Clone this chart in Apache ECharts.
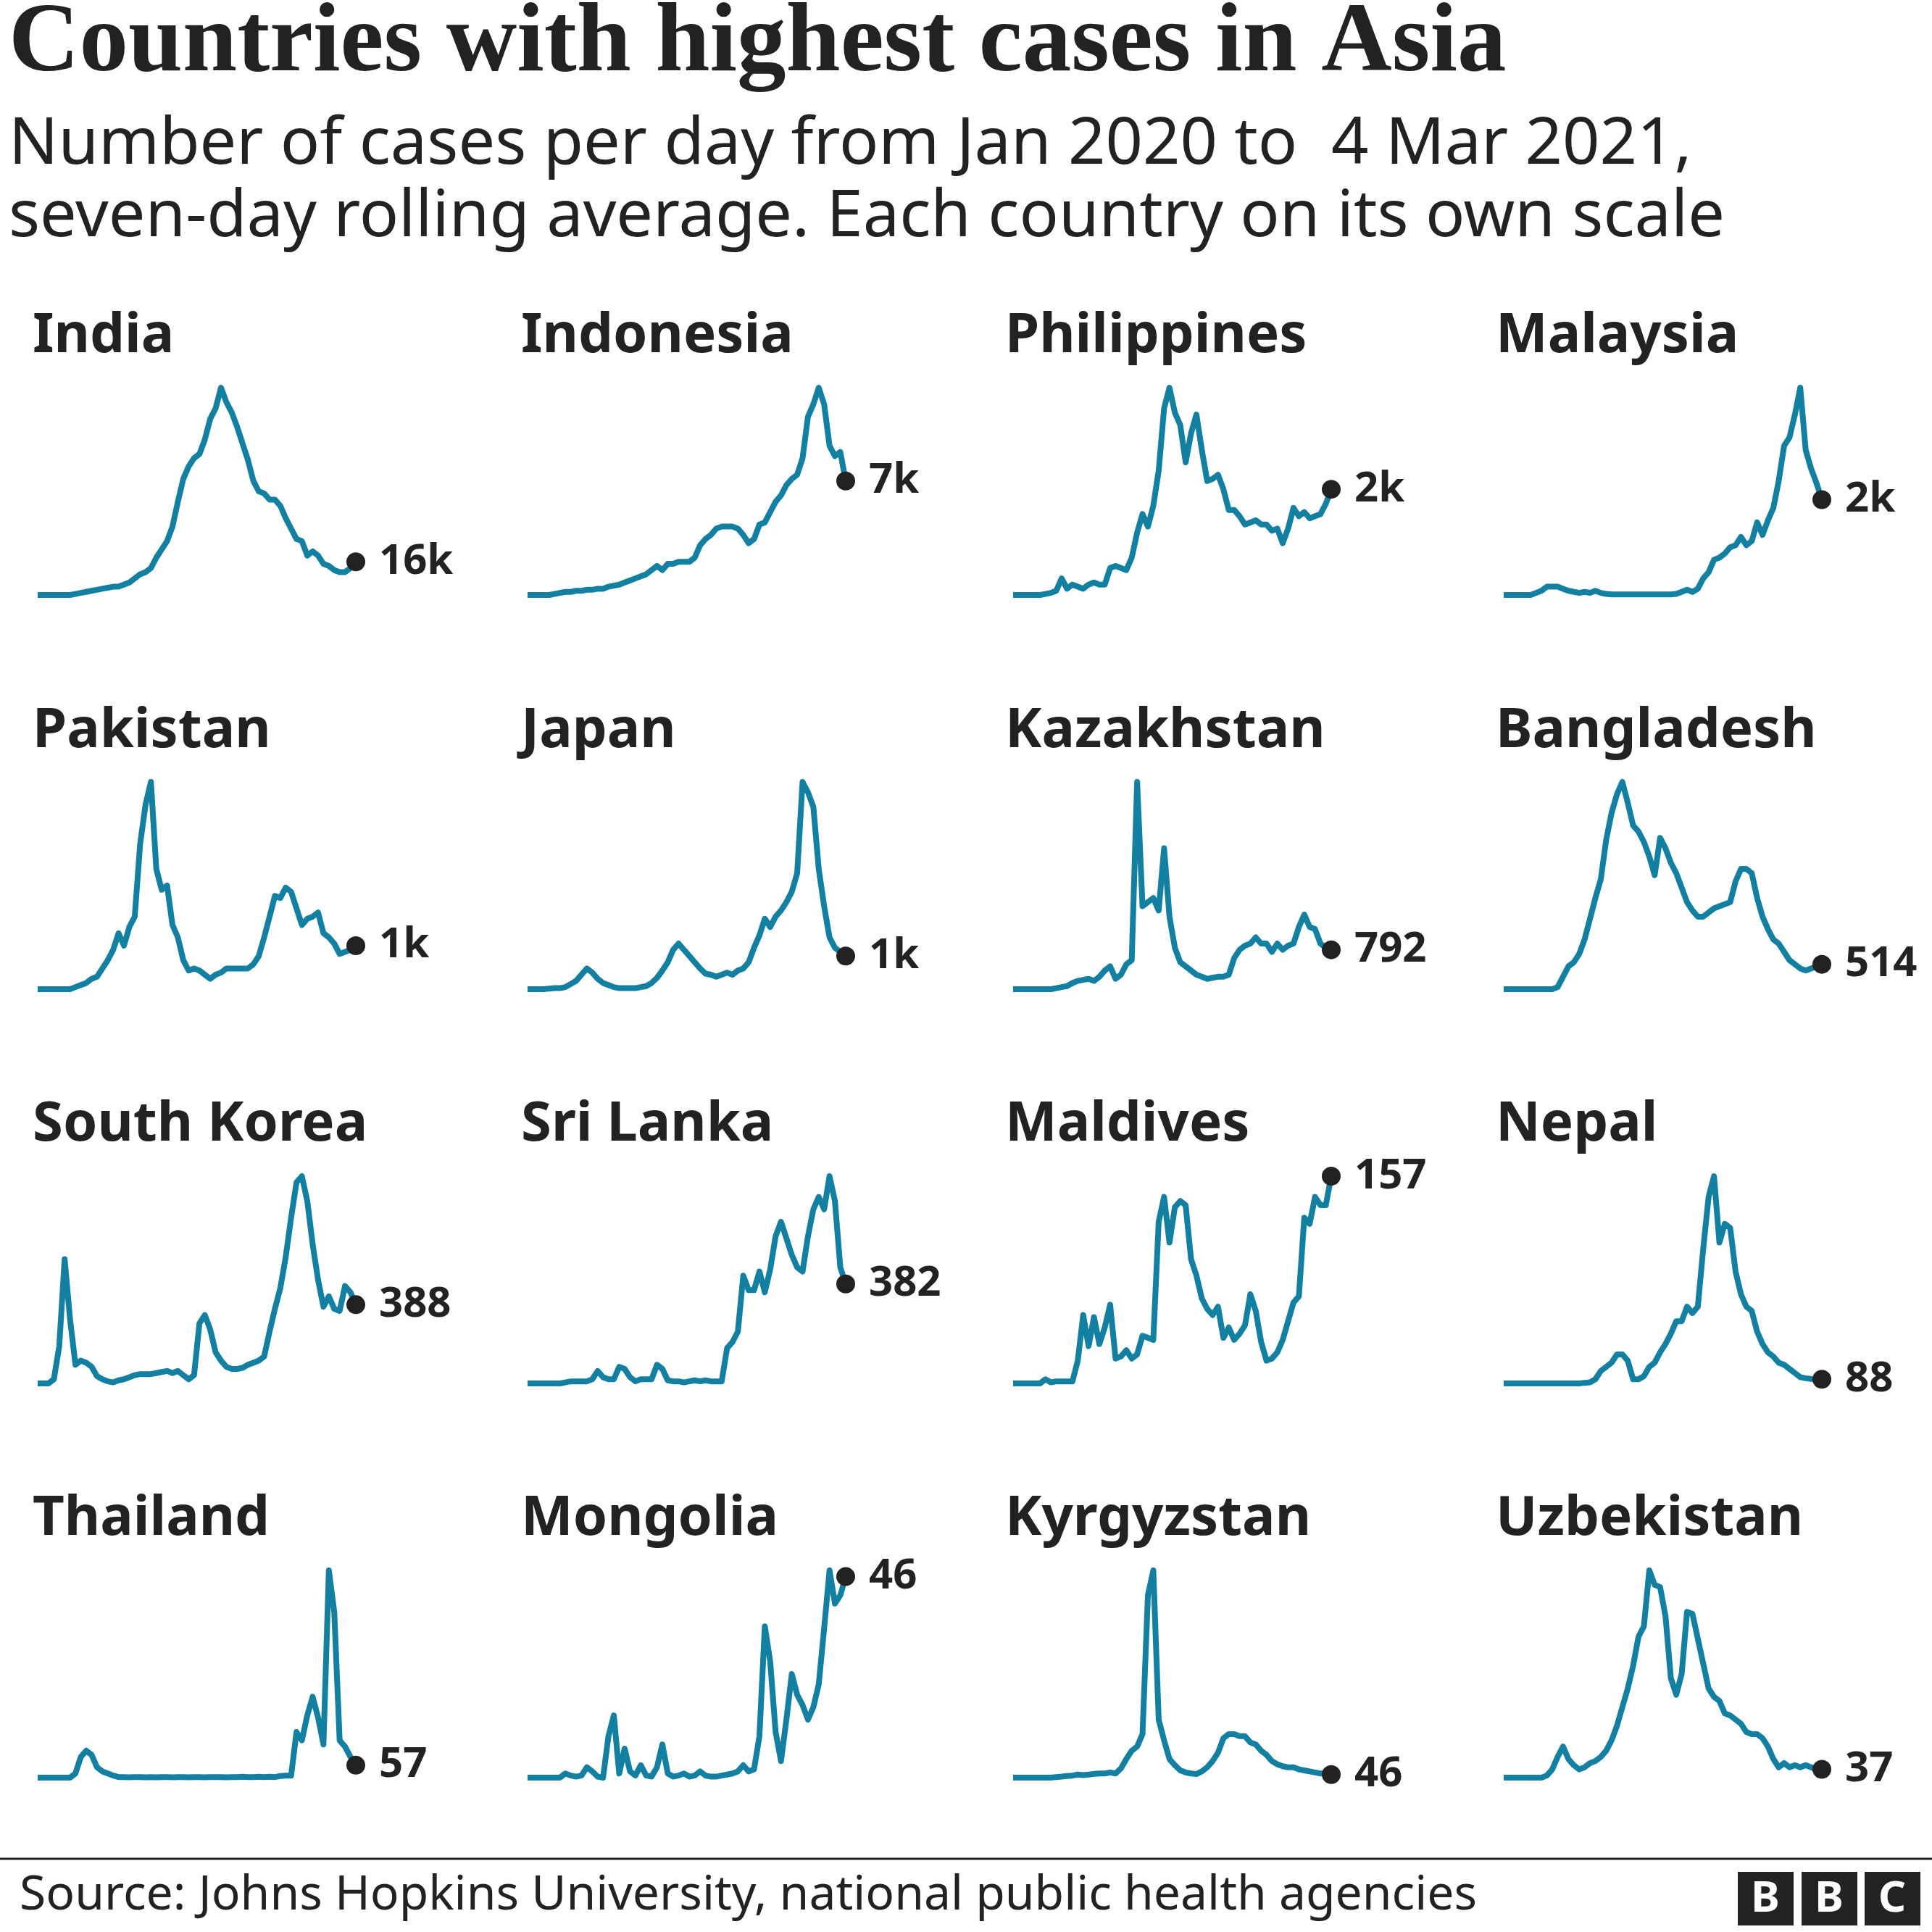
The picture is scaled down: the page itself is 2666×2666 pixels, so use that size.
<!DOCTYPE html>
<html>
<head>
<meta charset="utf-8">
<script src="https://cdn.jsdelivr.net/npm/echarts@6/dist/echarts.min.js"></script>
<style>
  html, body { margin: 0; padding: 0; background: #fff; }
  #container { width: 2666px; height: 2666px; }
</style>
</head>
<body>
<div id="container"></div>
<script>
// daily cases, seven-day average, read as % of each country's own peak
var countries = ['India', 'Indonesia', 'Philippines', 'Malaysia',
                 'Pakistan', 'Japan', 'Kazakhstan', 'Bangladesh',
                 'South Korea', 'Sri Lanka', 'Maldives', 'Nepal',
                 'Thailand', 'Mongolia', 'Kyrgyzstan', 'Uzbekistan'];
var endLabels = ['16k', '7k', '2k', '2k', '1k', '1k', '792', '514',
                 '388', '382', '157', '88', '57', '46', '46', '37'];

var india = [0,0,0,0,0,0,0,0.5,1,1.5,2,2.5,3,3.5,4,4,5,6,8,10,11,13,18,22,26,33,45,56,62,66,68,75,85,90,100,93,88,81,73,65,55,50,49,46,46,43,37,32,27,26,19,21,19,15,14,12,11,11,13,16];
var indonesia = [0,0,0,0,0,0.5,1,1.5,1.5,2,2,2.5,2.5,3,3,4,4.5,5,6,7,8,9,10,12,14,12,15,15,16,16,16,18,24,27,29,32,33,33,33,32,29,25,27,34,35,40,45,48,53,56,58,66,86,92,100,92,72,67,69,55];
var philippines = [0,0,0,0,0,0,0.5,1,2,8,3,5,4,3,5,6,5,5,13,14,13,12,18,30,39,33,43,60,90,100,88,82,64,78,87,70,55,56,58,51,41,41,38,34,35,36,34,34,31,32,25,32,42,38,40,37,38,39,44,51];
var malaysia = [0,0,0,0,0,0,1,2,4,4,4,3,2,1.5,1,1.5,1,2,1,0.5,0.3,0.3,0.3,0.3,0.3,0.3,0.3,0.3,0.3,0.3,0.3,0.3,0.5,1.5,2.5,1.5,3,8,11,17,18,20,23,24,28,24,26,35,29,36,42,55,72,76,87,100,70,61,54,46];
var pakistan = [0,0,0,0,0,0,0,1,2,3,5,6,10,14,19,27,21,30,35,70,89,100,58,48,50,31,25,14,9,10,9,7,5,7,8,10,10,10,10,10,12,16,25,35,45,44,49,47,39,31,34,35,37,27,25,22,17,18,19,21];
var japan = [0,0,0,0,0.3,0.5,0.5,1,2.5,4,7,10,8,5,3,2,1,0.5,0.5,0.5,0.5,1,1.5,3,5.5,9,13,19,22,19,16,13,10,7.5,7,6,7,8,7,9,10,13,20,26,34,30,35,38,42,47,56,100,95,88,58,40,25,20,18,16];
var kazakhstan = [0,0,0,0,0,0,0,0,0.5,1,1.5,3,4,4.5,5,4,6,9,11,5,7,12,14,100,40,42,44,38,68,35,20,13,11,9,7,6,5,5.5,6,6,7,15,19,21,22,25,22,22,18,22,19,21,22,30,36,30,29,22,20,19];
var bangladesh = [0,0,0,0,0,0,0,0,0,0,1,6,11,13,17,24,34,44,53,72,85,94,100,90,79,76,71,64,55,73,68,61,56,49,42,38,35,35,37,39,40,41,42,52,58,58,56,44,35,29,24,22,18,14,12,10,9,10,11,12];
var southKorea = [0,0,0,2,18,60,31,9,11,10,8,3.5,2,1,0.5,1.5,2,3,4,4.5,4.5,4.5,5,5.5,6,5,6,4,2,4,29,33,26,15,11,8,7,7,7.5,9,10,11,13,25,36,46,61,80,97,100,88,67,50,37,42,36,35,47,44,38];
var sriLanka = [0,0,0,0,0,0,0,0.5,1,1,1,1,2,6,3,2,2,8,7,3,1,2,2,2,9,7,1.5,1,1,0.5,1,1.5,1,1.5,1,1,1,17,20,25,52,45,45,54,44,55,71,78,70,62,56,54,71,84,90,84,100,88,56,48];
var maldives = [0,0,0,0,0,0,2,0.5,1,1,1,1,11,33,18,32,19,27,38,12,13,16,12,14,23,22,21,78,90,68,85,88,86,60,52,41,36,33,37,22,27,21,24,28,43,35,20,11,12,15,21,30,39,42,80,77,90,86,86,100];
var nepal = [0,0,0,0,0,0,0,0,0,0,0,0,0,0,0,0.3,0.5,2,6,8,10,14,14,11,2,2,3.5,8,10,15,19,24,30,30,37,34,37,65,90,100,68,77,75,54,43,37,35,25,19,15,13,10,9,7,5,3,2.5,2.2,2,2];
var thailand = [0,0,0,0,0,0,0,2,10,13,11,5,3,2,1,0.3,0.3,0.2,0.3,0.3,0.2,0.3,0.2,0.3,0.3,0.2,0.3,0.3,0.2,0.3,0.3,0.2,0.3,0.3,0.3,0.2,0.3,0.3,0.4,0.3,0.3,0.4,0.3,0.4,0.3,0.8,1,1,22,18,30,39,29,16,100,80,18,15,10,6];
var mongolia = [0,0,0,0,0,0,0,2,1,0.5,1,5,3,0.5,0,20,30,2,14,3,1,6,1,0.5,5,16,2,0.5,1,2,0.5,1,3,1,0.5,0.5,1,1.5,2,3,6,3,4,20,73,56,22,8,28,50,40,35,28,34,45,72,100,84,88,97];
var kyrgyzstan = [0,0,0,0,0,0,0,0,0.3,0.5,0.8,1,1.5,1.2,1.5,1.8,2,2,2.5,2,4.5,9,13,15,21,88,100,28,18,9,6,3.5,2.5,2,1.7,3,5,8,12,19,21,21,20,20,17,16,13,11,8,6.5,5.5,5,5,4,3.5,3,2.5,2,2,1.5];
var uzbekistan = [0,0,0,0,0,0,0,0,1,4,10,15,9,6,4,5,7,8,10,13,18,25,34,43,54,68,73,100,93,92,78,48,40,50,80,79,67,55,43,39,37,31,30,28,26,22,21,21,19,15,9,5,7,5,6,5,6,5,4,4];

var seriesData = [india, indonesia, philippines, malaysia,
                  pakistan, japan, kazakhstan, bangladesh,
                  southKorea, sriLanka, maldives, nepal,
                  thailand, mongolia, kyrgyzstan, uzbekistan];

var dom = document.getElementById("container");
var myChart = echarts.init(dom);

var lineColor = '#1380A1';
var ink = '#222222';
var colLeft = [52, 728, 1398, 2075];
var rowTop = [535, 1079, 1623, 2167];
var titleLeft = [45, 719, 1387, 2064];
var titleTop = [426, 971, 1514, 2058];
var plotW = 439, plotH = 286;

var titles = [{
    text: 'Countries with highest cases in Asia',
    left: 12, top: -5, padding: 0,
    textStyle: { fontFamily: 'Liberation Serif', fontWeight: 'bold', fontSize: 135, lineHeight: 135, color: ink }
}, {
    text: 'Number of cases per day from Jan 2020 to  4 Mar 2021,\nseven-day rolling average. Each country on its own scale',
    left: 12, top: 150, padding: 0,
    textStyle: { fontFamily: 'Noto Sans', fontWeight: 'normal', fontSize: 90, lineHeight: 100, color: ink }
}];
var grids = [], xAxes = [], yAxes = [], series = [];

for (var i = 0; i < countries.length; i++) {
    var c = i % 4, r = Math.floor(i / 4);
    var d = seriesData[i];
    titles.push({
        text: countries[i], left: titleLeft[c], top: titleTop[r], padding: 0,
        textStyle: { fontFamily: 'Noto Sans', fontWeight: 'bold', fontSize: 76, lineHeight: 76, color: ink }
    });
    grids.push({ left: colLeft[c], top: rowTop[r], width: plotW, height: plotH, containLabel: false });
    xAxes.push({
        type: 'category', gridIndex: i, boundaryGap: false,
        data: d.map(function (v, k) { return k; }),
        show: false
    });
    yAxes.push({ type: 'value', gridIndex: i, min: 0, max: 'dataMax', show: false });
    series.push({
        type: 'line', xAxisIndex: i, yAxisIndex: i, data: d,
        showSymbol: false, clip: false, silent: true,
        lineStyle: { color: lineColor, width: 8, join: 'round', cap: 'butt' },
        z: 2
    });
    series.push({
        type: 'scatter', xAxisIndex: i, yAxisIndex: i,
        data: [[d.length - 1, d[d.length - 1]]],
        symbolSize: 26, clip: false, silent: true,
        itemStyle: { color: ink, opacity: 1 },
        label: {
            show: true, position: 'right', distance: 19,
            formatter: endLabels[i],
            fontFamily: 'Noto Sans', fontWeight: 'bold', fontSize: 58, color: ink
        },
        z: 3
    });
}

option = {
    backgroundColor: '#ffffff',
    animation: false,
    title: titles,
    grid: grids,
    xAxis: xAxes,
    yAxis: yAxes,
    series: series,
    graphic: [
        { type: 'line', shape: { x1: 0, y1: 2565, x2: 2666, y2: 2565 }, style: { stroke: ink, lineWidth: 3 } },
        { type: 'text', x: 27, y: 2616, style: { text: 'Source: Johns Hopkins University, national public health agencies',
            fontFamily: 'Noto Sans', fontSize: 66, fill: ink, verticalAlign: 'middle' } },
        { type: 'rect', shape: { x: 2398, y: 2583, width: 77, height: 74 }, style: { fill: ink } },
        { type: 'rect', shape: { x: 2486, y: 2583, width: 77, height: 74 }, style: { fill: ink } },
        { type: 'rect', shape: { x: 2573, y: 2583, width: 77, height: 74 }, style: { fill: ink } },
        { type: 'text', x: 2436, y: 2621, style: { text: 'B', fontFamily: 'Noto Sans', fontWeight: 'bold', fontSize: 60, fill: '#fff', align: 'center', verticalAlign: 'middle' } },
        { type: 'text', x: 2524, y: 2621, style: { text: 'B', fontFamily: 'Noto Sans', fontWeight: 'bold', fontSize: 60, fill: '#fff', align: 'center', verticalAlign: 'middle' } },
        { type: 'text', x: 2611, y: 2621, style: { text: 'C', fontFamily: 'Noto Sans', fontWeight: 'bold', fontSize: 60, fill: '#fff', align: 'center', verticalAlign: 'middle' } }
    ]
};

if (option && typeof option === "object") {
    myChart.setOption(option, true);
}
</script>
</body>
</html>
